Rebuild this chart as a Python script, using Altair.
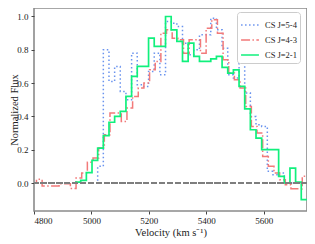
import altair as alt
import pandas as pd

names = ["CS J=5-4", "CS J=4-3", "CS J=2-1"]
colors = ["#6a93ee", "#f27a7a", "#10f07c"]
dashes = [[1.5, 2.5], [9, 2.4, 1.5, 2.4], [1, 0]]

# channel left edges (km/s) and normalized flux per channel
green_v = [4943.0, 4962.7, 4982.4, 5002.1, 5021.8, 5041.5, 5061.2, 5080.9, 5100.6, 5120.3,
           5140.0, 5159.7, 5179.4, 5199.1, 5218.8, 5238.5, 5258.2, 5277.9, 5297.6, 5317.3,
           5337.0, 5356.7, 5376.4, 5396.1, 5415.8, 5435.5, 5455.2, 5474.9, 5494.6, 5514.3,
           5534.0, 5553.7, 5573.4, 5593.1, 5612.8, 5632.5, 5652.2, 5671.9, 5691.6, 5711.3,
           5731.0, 5750.7]
green_f = [0.005, 0.016, 0.062, 0.136, 0.21, 0.285, 0.365, 0.40, 0.43, 0.52,
           0.64, 0.70, 0.70, 0.87, 0.82, 0.82, 1.00, 0.92, 0.85, 0.73,
           0.84, 0.76, 0.73, 0.73, 0.745, 0.76, 0.695, 0.66, 0.68, 0.58,
           0.445, 0.32, 0.27, 0.20, 0.20, 0.20, 0.04, 0.00, 0.09, 0.005,
           -0.10]

blue_v = [5002.1, 5021.8, 5041.5, 5061.2, 5080.9, 5100.6, 5120.3,
          5140.0, 5159.7, 5179.4, 5199.1, 5218.8, 5238.5, 5258.2, 5277.9, 5297.6, 5317.3,
          5337.0, 5356.7, 5376.4, 5396.1, 5415.8, 5435.5, 5455.2, 5474.9, 5494.6, 5514.3,
          5534.0, 5553.7, 5573.4, 5593.1, 5612.8, 5632.5, 5652.2, 5671.9, 5691.6, 5711.3]
blue_f = [0.0, 0.10, 0.80, 0.61, 0.70, 0.55, 0.50,
          0.78, 0.59, 0.58, 0.67, 0.78, 0.65, 0.97, 0.96, 0.94, 0.84,
          0.77, 0.80, 0.89, 0.89, 0.99, 0.92, 0.81, 0.65, 0.63, 0.81,
          0.54, 0.40, 0.35, 0.34, 0.07, 0.05, 0.06, 0.00, 0.00]

red_v = [4788.9, 4808.6, 4828.3, 4848.0, 4867.7, 4887.4, 4907.1, 4926.8, 4946.5, 4966.2,
         4985.9, 5005.6, 5025.3, 5045.0, 5064.7, 5084.4, 5104.1, 5123.8, 5143.5, 5163.2,
         5182.9, 5202.6, 5222.3, 5242.0, 5261.7, 5281.4, 5301.1, 5320.8, 5340.5, 5360.2,
         5379.9, 5399.6, 5419.3, 5439.0, 5458.7, 5478.4, 5498.1, 5517.8, 5537.5, 5557.2,
         5576.9, 5596.6, 5616.3, 5636.0, 5655.7, 5675.4, 5695.1, 5714.8, 5734.5, 5754.2]
red_f = [0.0, 0.022, -0.018, -0.018, -0.018, -0.004, -0.004, -0.033, 0.03, 0.06,
         0.125, 0.15, 0.21, 0.29, 0.42, 0.42, 0.37, 0.45, 0.52, 0.57,
         0.60, 0.68, 0.73, 0.90, 0.92, 0.87, 0.86, 0.78, 0.86, 0.86,
         0.78, 0.93, 0.98, 0.90, 0.74, 0.66, 0.62, 0.57, 0.46, 0.34,
         0.30, 0.16, 0.10, 0.06, 0.02, -0.01, -0.035, -0.035, 0.04]

x_ticks = [4800, 5000, 5200, 5400, 5600]
y_ticks = [0.0, 0.2, 0.4, 0.6, 0.8, 1.0]


def steps(name, edges, vals):
    rows = [{"v": e, "f": f, "series": name} for e, f in zip(edges, vals)]
    rows.append({"v": edges[len(vals)], "f": vals[-1], "series": name})
    return rows


df = pd.DataFrame(steps(names[0], blue_v, blue_f) + steps(names[1], red_v, red_f)
                  + steps(names[2], green_v, green_f))

FONT = "Liberation Serif"

legend = alt.Legend(title=None, orient="none", legendX=203, legendY=4,
                    symbolType="stroke", symbolSize=320, symbolStrokeWidth=1.6,
                    labelFont=FONT, labelFontSize=8.5, labelColor="#222",
                    padding=3, rowPadding=-5.5, strokeColor="#cccccc", fillColor="white",
                    cornerRadius=3, labelOffset=5)

xs = alt.X("v:Q", scale=alt.Scale(domain=[4800, 5751], nice=False, zero=False),
           axis=alt.Axis(values=x_ticks, format="d", title="Velocity (km s⁻¹)"))
ys = alt.Y("f:Q", scale=alt.Scale(domain=[-0.168, 1.051], nice=False, zero=False),
           axis=alt.Axis(values=y_ticks, format=".1f", title="Normalized Flux",
                         titleX=-20, titleY=101.5, titleAngle=270,
                         titleBaseline="middle", titleAlign="center"))
col = alt.Color("series:N", scale=alt.Scale(domain=names, range=colors), legend=legend)
dash = alt.StrokeDash("series:N", scale=alt.Scale(domain=names, range=dashes), legend=legend)

layers = []
for i, n in enumerate(names):
    layers.append(
        alt.Chart(df).transform_filter(alt.datum.series == n)
        .mark_line(interpolate="step-after", strokeWidth=1.7 if i == 2 else 1.5, clip=True)
        .encode(x=xs, y=ys, color=col, strokeDash=dash)
    )

zero = alt.Chart(df).mark_rule(color="#7f7f7f", strokeDash=[5.5, 2.4], strokeWidth=1.3).encode(
    y=alt.datum(0.0))

chart = alt.layer(*layers, zero).properties(
    width=273, height=203,
    autosize=alt.AutoSizeParams(type="none"),
    padding={"left": 26, "top": 0, "right": 0, "bottom": 30},
).configure_view(stroke="#8a8a8a", strokeWidth=1.6).configure_axis(
    domain=False, grid=False, tickColor="#444", tickSize=3, labelPadding=3,
    labelFont=FONT, labelFontSize=9, labelColor="#222",
    titleFont=FONT, titleFontSize=10.5, titleFontWeight="normal", titleColor="#222",
).configure_axisX(titlePadding=2, labelPadding=2)

chart.save("out.html", embed_options={"renderer": "svg", "actions": False})
